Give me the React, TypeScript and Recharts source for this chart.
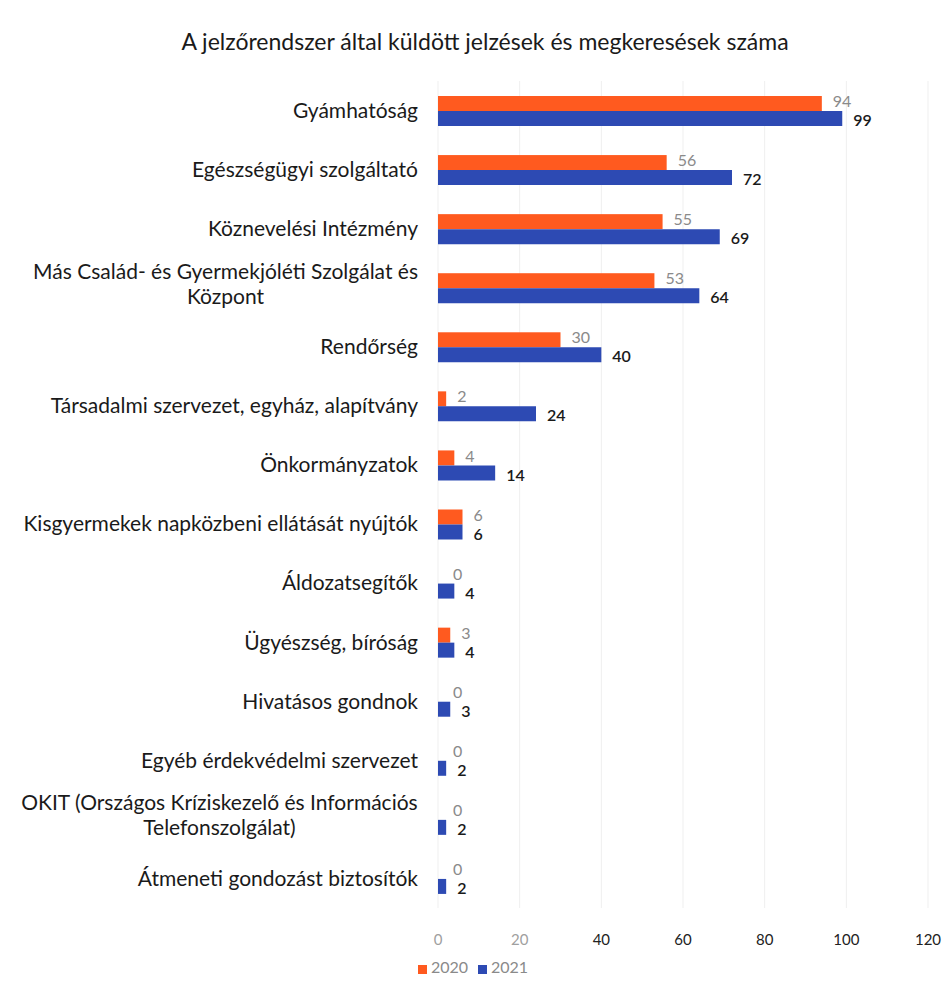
import React from 'react';
import { BarChart, Bar, XAxis, YAxis, CartesianGrid, Legend, LabelList } from 'recharts';

const categories = [
  'Gyámhatóság',
  'Egészségügyi szolgáltató',
  'Köznevelési Intézmény',
  'Más Család- és Gyermekjóléti Szolgálat és Központ',
  'Rendőrség',
  'Társadalmi szervezet, egyház, alapítvány',
  'Önkormányzatok',
  'Kisgyermekek napközbeni ellátását nyújtók',
  'Áldozatsegítők',
  'Ügyészség, bíróság',
  'Hivatásos gondnok',
  'Egyéb érdekvédelmi szervezet',
  'OKIT (Országos Kríziskezelő és Információs Telefonszolgálat)',
  'Átmeneti gondozást biztosítók',
];
const values2020 = [94, 56, 55, 53, 30, 2, 4, 6, 0, 3, 0, 0, 0, 0];
const values2021 = [99, 72, 69, 64, 40, 24, 14, 6, 4, 4, 3, 2, 2, 2];
const xTicks = [0, 20, 40, 60, 80, 100, 120];

const data = categories.map((name, i) => ({ name, y2020: values2020[i], y2021: values2021[i] }));

const ORANGE = '#FF5A1F';
const BLUE = '#2D4AB3';
const FONT = 'Lato, "Open Sans", sans-serif';
const LABEL_SIZE = 21;

// simple greedy wrap, the long labels go on two lines
const wrap = (s: string, max = 42) => {
  const lines: string[] = [];
  let cur = '';
  s.split(' ').forEach((w) => {
    const next = cur ? cur + ' ' + w : w;
    if (next.length > max && cur) {
      lines.push(cur);
      cur = w;
    } else cur = next;
  });
  if (cur) lines.push(cur);
  return lines;
};

let ctx: CanvasRenderingContext2D | null = null;
const measure = (s: string, font: string) => {
  if (!ctx) ctx = document.createElement('canvas').getContext('2d');
  if (!ctx) return s.length * 10;
  ctx.font = font;
  return ctx.measureText(s).width;
};

const CategoryTick = (props: any) => {
  const { x, y, payload } = props;
  const lines = wrap(payload.value);
  const lh = 25;
  const right = x - 12;
  if (lines.length === 1) {
    return (
      <text x={right} y={y} dy="0.35em" textAnchor="end" fontSize={LABEL_SIZE} fontFamily={FONT} fill="#1a1a1a">
        {lines[0]}
      </text>
    );
  }
  const w = Math.max(...lines.map((l) => measure(l, `${LABEL_SIZE}px Lato`)));
  const cx = right - w / 2;
  const top = y - ((lines.length - 1) * lh) / 2 - 4;
  return (
    <text textAnchor="middle" fontSize={LABEL_SIZE} fontFamily={FONT} fill="#1a1a1a">
      {lines.map((l, i) => (
        <tspan key={i} x={cx} y={top + i * lh} dy="0.35em">
          {l}
        </tspan>
      ))}
    </text>
  );
};

const ValueTick = (props: any) => {
  const { x, y, payload } = props;
  return (
    <text x={x} y={y} dy="0.71em" textAnchor="middle" fontSize={15} fontFamily={FONT} fill={payload.value <= 20 ? '#a0a0a0' : '#222'}>
      {payload.value}
    </text>
  );
};

// zero bars get a tiny min size so the label is still drawn, but the shape skips them
const BarShape = (props: any) => {
  const { x, y, width, height, fill, value } = props;
  const v = Array.isArray(value) ? value[1] - value[0] : value;
  if (!v) return null;
  return <rect x={x} y={y} width={width} height={height} fill={fill} />;
};

const makeLabel = (color: string, weight: number, dyOff: number, dxZero: number) => (props: any) => {
  const { x, y, width, height, value } = props;
  return (
    <text
      x={x + (value ? width : 0) + (value ? 11 : dxZero)}
      y={y + height / 2 + dyOff}
      dy="0.35em"
      fontSize={16}
      fontFamily={FONT}
      fontWeight={weight}
      fill={color}
    >
      {value}
    </text>
  );
};

const legendFormatter = (value: string) => (
  <span style={{ color: '#8a8a8a', fontSize: 16, fontFamily: FONT }}>{value}</span>
);

export default function App() {
  return (
    <div style={{ position: 'absolute', left: 0, top: 0, width: 943, height: 987, background: '#fff' }}>
      <div
        style={{
          position: 'absolute',
          top: 27,
          left: 0,
          width: 970,
          textAlign: 'center',
          fontFamily: FONT,
          fontSize: 23,
          color: '#1a1a1a',
        }}
      >
        A jelzőrendszer által küldött jelzések és megkeresések száma
      </div>
      <BarChart
        width={943}
        height={987}
        data={data}
        layout="vertical"
        margin={{ top: 81, right: 15, left: 0, bottom: 0 }}
        barGap={0}
        barSize={15}
      >
        <CartesianGrid horizontal={false} stroke="#efefef" />
        <XAxis
          type="number"
          domain={[0, 120]}
          ticks={xTicks}
          axisLine={false}
          tickLine={false}
          tickMargin={20}
          height={49}
          tick={<ValueTick />}
          interval={0}
        />
        <YAxis
          type="category"
          dataKey="name"
          width={438}
          axisLine={false}
          tickLine={false}
          interval={0}
          tick={<CategoryTick />}
        />
        <Legend
          verticalAlign="bottom"
          height={30}
          iconType="square"
          iconSize={9}
          formatter={legendFormatter}
          wrapperStyle={{ paddingLeft: 14 }}
        />
        <Bar dataKey="y2020" name="2020" fill={ORANGE} minPointSize={1} shape={<BarShape />} isAnimationActive={false}>
          <LabelList dataKey="y2020" content={makeLabel('#8a8a8a', 400, -2, 15)} />
        </Bar>
        <Bar dataKey="y2021" name="2021" fill={BLUE} isAnimationActive={false}>
          <LabelList dataKey="y2021" content={makeLabel('#1a1a1a', 600, 2, 15)} />
        </Bar>
      </BarChart>
    </div>
  );
}
